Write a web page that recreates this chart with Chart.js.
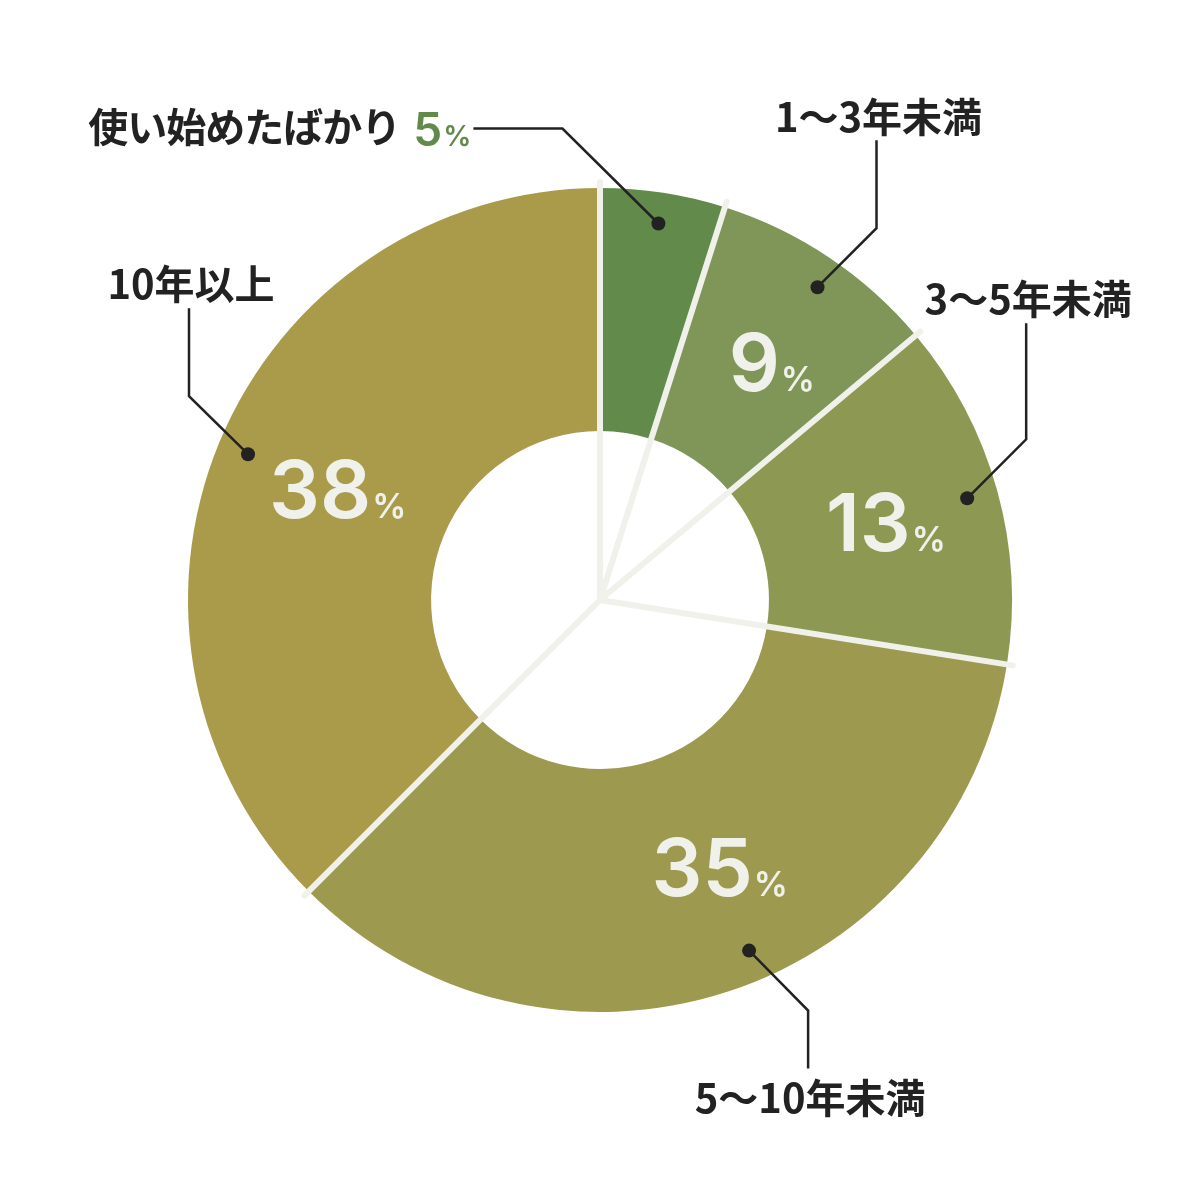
<!DOCTYPE html>
<html lang="ja">
<head>
<meta charset="utf-8">
<title>利用年数</title>
<script src="https://cdn.jsdelivr.net/npm/chart.js@4"></script>
<style>
  html, body { margin: 0; background: #fff; }
  #wrap { width: 1200px; height: 1200px; }
</style>
</head>
<body>
<div id="wrap"><canvas id="chart" width="1200" height="1200"></canvas></div>
<script>
// data
const categories = ['使い始めたばかり', '1〜3年未満', '3〜5年未満', '5〜10年未満', '10年以上'];
const shares = [4.9, 9.0, 13.6, 35.0, 37.5];
const shareLabels = ['5', '9', '13', '35', '38'];
const sliceColors = ['#628a4b', '#7f9658', '#8d9853', '#9d994f', '#aa9b4a'];

// callout placement: where on the slice the dot sits, then elbow + straight leg
const calloutLayout = [
  { anchor: 0.5,  inside: false, diag: [-96, -95], leg: [-89, 0],   textDy: -2 },
  { anchor: 0.53, inside: true,  diag: [59, -59],  leg: [0, -88],   textDy: -23 },
  { anchor: 0.5,  inside: true,  diag: [59, -59],  leg: [0, -116],  textDy: -25 },
  { anchor: 0.46, inside: true,  diag: [59, 60],   leg: [0, 58],    textDy: 29 },
  { anchor: 0.5,  inside: true,  diag: [-59, -58], leg: [0, -88],   textDy: -24 }
];

const ink = '#222222';
const paper = '#f0f1ea';
const jpFont = '"Noto Sans CJK JP", "Noto Sans", sans-serif';
const numFont = 'Inter, "Liberation Sans", sans-serif';

// number + small % sign, x is left edge, baseline y
function drawPct(ctx, num, x, y, bigSize, smallSize, weight, color) {
  ctx.fillStyle = color;
  ctx.textAlign = 'left';
  ctx.textBaseline = 'alphabetic';
  ctx.font = `${weight} ${bigSize}px ${numFont}`;
  ctx.fillText(num, x, y);
  const w = ctx.measureText(num).width;
  ctx.font = `${weight} ${smallSize}px ${numFont}`;
  ctx.fillText('%', x + w + 1, y);
}
function pctWidth(ctx, num, bigSize, smallSize, weight) {
  ctx.font = `${weight} ${bigSize}px ${numFont}`;
  const a = ctx.measureText(num).width;
  ctx.font = `${weight} ${smallSize}px ${numFont}`;
  return a + 1 + ctx.measureText('%').width;
}

const calloutPlugin = {
  id: 'callouts',
  afterDatasetsDraw(chart) {
    const ctx = chart.ctx;
    const arcs = chart.getDatasetMeta(0).data;
    const cx = arcs[0].x, cy = arcs[0].y;
    const outer = arcs[0].outerRadius, inner = arcs[0].innerRadius;
    const polar = (a, r) => [cx + Math.cos(a) * r, cy + Math.sin(a) * r];

    ctx.save();

    // light separators from the centre out past the rim
    ctx.strokeStyle = paper;
    ctx.lineWidth = 6;
    ctx.lineCap = 'round';
    arcs.forEach(arc => {
      const [x, y] = polar(arc.startAngle, outer + 6);
      ctx.beginPath();
      ctx.moveTo(cx, cy);
      ctx.lineTo(x, y);
      ctx.stroke();
    });

    arcs.forEach((arc, i) => {
      const lay = calloutLayout[i];
      const ang = arc.startAngle + (arc.endAngle - arc.startAngle) * lay.anchor;

      // percentage inside the ring
      if (lay.inside) {
        const [px, py] = polar(ang, (inner + outer) / 2);
        const w = pctWidth(ctx, shareLabels[i], 80, 34, 600);
        drawPct(ctx, shareLabels[i], px - w / 2 + 6, py + 29, 80, 34, 600, paper);
      }

      // leader: dot -> elbow -> leg end
      const [dx, dy] = polar(ang, outer - 31);
      const ex = dx + lay.diag[0], ey = dy + lay.diag[1];
      const lx = ex + lay.leg[0], ly = ey + lay.leg[1];
      ctx.strokeStyle = ink;
      ctx.lineWidth = 2.5;
      ctx.lineCap = 'butt';
      ctx.lineJoin = 'miter';
      ctx.beginPath();
      ctx.moveTo(dx, dy);
      ctx.lineTo(ex, ey);
      ctx.lineTo(lx, ly);
      ctx.stroke();
      ctx.fillStyle = ink;
      ctx.beginPath();
      ctx.arc(dx, dy, 7, 0, Math.PI * 2);
      ctx.fill();

      // category label
      ctx.font = `700 40px ${jpFont}`;
      ctx.textBaseline = 'middle';
      ctx.fillStyle = ink;
      if (lay.inside) {
        ctx.textAlign = 'center';
        ctx.fillText(categories[i], lx + 2, ly + lay.textDy);
      } else {
        const w = pctWidth(ctx, shareLabels[i], 46, 28, 600);
        const px = lx - 5 - w;
        drawPct(ctx, shareLabels[i], px + 3, ly + 17, 46, 28, 600, sliceColors[0]);
        ctx.font = `700 40px ${jpFont}`;
        ctx.textBaseline = 'middle';
        ctx.textAlign = 'right';
        ctx.fillStyle = ink;
        ctx.letterSpacing = '-1px';
        ctx.fillText(categories[i], px - 10, ly + lay.textDy);
        ctx.letterSpacing = '0px';
      }
    });

    ctx.restore();
  }
};

new Chart(document.getElementById('chart'), {
  type: 'doughnut',
  data: {
    labels: categories,
    datasets: [{
      data: shares,
      backgroundColor: sliceColors,
      borderWidth: 0
    }]
  },
  options: {
    responsive: false,
    devicePixelRatio: 1,
    animation: false,
    cutout: '41%',
    layout: { padding: 188 },
    plugins: {
      legend: { display: false },
      tooltip: { enabled: false }
    }
  },
  plugins: [calloutPlugin]
});
</script>
</body>
</html>
